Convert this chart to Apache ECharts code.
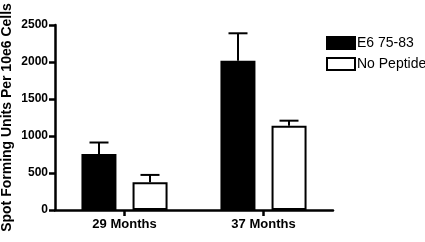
<!DOCTYPE html>
<html>
<head>
<meta charset="utf-8">
<script src="https://cdn.jsdelivr.net/npm/echarts@6/dist/echarts.min.js"></script>
<style>
  html, body { margin: 0; padding: 0; background: #fff; }
  #main { width: 425px; height: 242px; }
</style>
</head>
<body>
<div id="main"></div>
<script>
// 数据
const categories = ['29 Months', '37 Months'];
const e6Values = [757, 2018];
const e6Errors = [155, 370];
const noPeptideValues = [374, 1140];
const noPeptideErrors = [100, 67];
const yTicks = [0, 500, 1000, 1500, 2000, 2500];

let chart = echarts.init(document.getElementById('main'), null, { renderer: 'canvas' });

// 误差线 (only the upper half is drawn)
function errorSeries(name, values, errors, offset) {
  return {
    name: name + ' err',
    type: 'custom',
    silent: true,
    z: 1,
    data: values.map((v, i) => [i, v, v + errors[i]]),
    renderItem: function (params, api) {
      let base = api.coord([api.value(0), api.value(1)]);
      let top = api.coord([api.value(0), api.value(2)]);
      let x = base[0] + offset;
      return {
        type: 'group',
        children: [
          { type: 'line', shape: { x1: x, y1: base[1], x2: x, y2: top[1] }, style: { stroke: '#000', lineWidth: 2 } },
          { type: 'line', shape: { x1: x - 9.5, y1: top[1], x2: x + 9.5, y2: top[1] }, style: { stroke: '#000', lineWidth: 2 } }
        ]
      };
    }
  };
}

let option = {
  backgroundColor: '#fff',
  animation: false,
  textStyle: { fontFamily: 'Liberation Sans, Arial, sans-serif' },
  grid: { left: 55, right: 92, top: 25, bottom: 32, containLabel: false, outerBoundsMode: 'none' },
  legend: {
    orient: 'vertical',
    left: 321,
    top: 31,
    itemWidth: 28,
    itemHeight: 12,
    itemGap: 7,
    icon: 'rect',
    textStyle: { fontSize: 14, color: '#000', fontFamily: 'Liberation Sans, Arial, sans-serif', padding: [0, 0, 0, -3] },
    data: ['E6 75-83', 'No Peptide']
  },
  xAxis: {
    type: 'category',
    data: categories,
    axisLine: { lineStyle: { color: '#000', width: 2.5 } },
    axisTick: { show: true, alignWithLabel: true, length: 6, lineStyle: { color: '#000', width: 2.5 } },
    axisLabel: { color: '#000', fontWeight: 'bold', fontSize: 13, margin: 8 }
  },
  yAxis: {
    type: 'value',
    min: yTicks[0],
    max: yTicks[yTicks.length - 1],
    interval: 500,
    name: 'Spot Forming Units Per 10e6 Cells',
    nameLocation: 'middle',
    nameGap: 41,
    nameMoveOverlap: false,
    nameTextStyle: { color: '#000', fontWeight: 'bold', fontSize: 14 },
    axisLine: { show: true, lineStyle: { color: '#000', width: 2.5 } },
    axisTick: { show: true, length: 6, lineStyle: { color: '#000', width: 2.5 } },
    axisLabel: { color: '#000', fontWeight: 'bold', fontSize: 12, margin: 7, formatter: v => String(v) },
    splitLine: { show: false }
  },
  series: [
    {
      name: 'E6 75-83',
      type: 'bar',
      data: e6Values,
      barWidth: 35,
      barGap: '46%',
      z: 2,
      itemStyle: { color: '#000', borderColor: '#000', borderWidth: 2 }
    },
    {
      name: 'No Peptide',
      type: 'bar',
      data: noPeptideValues,
      barWidth: 35,
      z: 2,
      itemStyle: { color: '#fff', borderColor: '#000', borderWidth: 2 }
    },
    errorSeries('E6 75-83', e6Values, e6Errors, -25.5),
    errorSeries('No Peptide', noPeptideValues, noPeptideErrors, 25.5)
  ]
};

chart.setOption(option);
</script>
</body>
</html>
